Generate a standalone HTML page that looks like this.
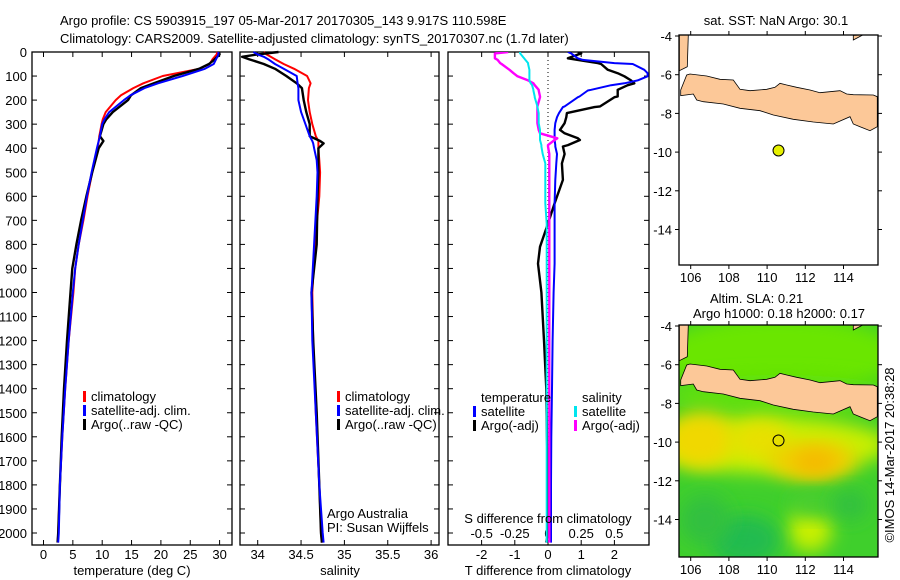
<!DOCTYPE html>
<html><head><meta charset="utf-8"><style>
html,body{margin:0;padding:0;background:#fff}
svg{display:block}
text{font-family:"Liberation Sans",sans-serif;font-size:13px;fill:#000}
</style></head><body>
<svg id="chart" width="900" height="580" viewBox="0 0 900 580" xmlns="http://www.w3.org/2000/svg">
<text x="60" y="25">Argo profile: CS 5903915_197 05-Mar-2017 20170305_143 9.917S 110.598E</text>
<text x="60" y="43">Climatology: CARS2009. Satellite-adjusted climatology: synTS_20170307.nc (1.7d later)</text>
<g id="g1"></g>
<g id="g2"></g>
<g id="g3"></g>
<g id="m1"></g>
<g id="m2"></g>
<text transform="translate(894,455) rotate(-90)" text-anchor="middle">©IMOS 14-Mar-2017 20:38:28</text>
</svg>
<script>
// ---- data ----
const tDepth = [0,10,30,50,70,100,130,150,180,200,250,280,300,350,370,400,500,600,700,800,900,1000,1200,1400,1600,1800,2000,2040];
const tClim  = [29.6,29.5,28.8,28.3,26.5,20.3,17,15.3,13.2,12.3,10.6,10.1,9.9,9.5,9.4,9.2,8.3,7.5,6.8,6,5.4,5.1,4.3,3.7,3.2,2.8,2.5,2.4];
const tSat   = [29.8,29.8,29.4,29.0,27.5,23.7,19.5,17.2,14.8,13.7,11.2,10.4,10.0,9.6,9.4,9.1,8.2,7.4,6.7,6.0,5.4,5.0,4.3,3.7,3.2,2.8,2.6,2.5];
const tArgo  = [29.9,30.0,29.2,28.2,26.5,22.2,18.8,16.6,14.9,14.4,11.8,10.7,10.2,9.6,10.2,9.4,8.3,7.3,6.4,5.6,4.9,4.6,4.0,3.5,3.1,2.8,2.5,2.4];
const sDepth = [0,10,20,30,50,70,100,130,150,200,250,300,350,370,380,400,450,500,600,800,1000,1200,1500,1800,2000,2040];
const sClim  = [34.07,34.1,34.15,34.2,34.3,34.42,34.57,34.61,34.59,34.58,34.6,34.63,34.67,34.7,34.7,34.7,34.71,34.72,34.71,34.66,34.63,34.64,34.67,34.71,34.73,34.74];
const sSat   = [33.95,34.0,34.07,34.12,34.2,34.3,34.45,34.46,34.47,34.47,34.5,34.55,34.6,34.63,34.64,34.65,34.68,34.69,34.68,34.65,34.62,34.63,34.67,34.71,34.75,34.76];
const sArgo  = [34.24,34.0,33.82,33.9,34.07,34.2,34.33,34.45,34.51,34.53,34.56,34.6,34.6,34.72,34.76,34.7,34.7,34.7,34.69,34.68,34.62,34.64,34.68,34.71,34.73,34.74];
const dDepth = [0,6,26,33,46,50,74,88,101,118,130,138,157,160,185,188,226,229,254,271,296,324,338,359,366,387,393,424,463,532,629,713,810,880,1000,1200,1400,1600,1800,2000,2040];
const dTSat  = [0.6,0.7,0.9,1.05,2.0,2.55,2.9,3.0,3.0,2.7,2.3,1.9,1.3,1.2,0.95,0.9,0.5,0.45,0.33,0.27,0.22,0.2,0.2,0.2,0.2,0.22,0.22,0.27,0.25,0.22,0.2,0.2,0.2,0.2,0.17,0.14,0.12,0.1,0.09,0.09,0.09];
const dTArgo = [0.9,1.0,0.6,0.9,1.5,1.6,1.8,2.1,2.3,2.5,2.6,2.4,2.1,2.1,2.1,2.0,1.57,1.4,0.57,0.55,0.5,0.36,0.5,0.9,0.96,0.6,0.45,0.5,0.42,0.45,0.2,0.0,-0.24,-0.3,-0.2,-0.12,-0.05,-0.03,0,0,-0.05];
const dSSat  = [-0.21,-0.21,-0.18,-0.17,-0.15,-0.15,-0.14,-0.14,-0.14,-0.14,-0.13,-0.12,-0.11,-0.11,-0.1,-0.1,-0.08,-0.08,-0.07,-0.07,-0.07,-0.06,-0.06,-0.06,-0.06,-0.05,-0.05,-0.04,-0.02,-0.02,-0.02,-0.01,-0.01,-0.01,-0.01,-0.01,-0.01,-0.01,-0.01,-0.01,-0.01];
const dSArgo = [-0.3,-0.4,-0.4,-0.38,-0.36,-0.35,-0.29,-0.26,-0.23,-0.15,-0.11,-0.1,-0.07,-0.07,-0.06,-0.06,-0.08,-0.08,-0.08,-0.08,-0.08,-0.07,-0.06,0.07,0.05,0.0,0.0,0.01,0.01,0.01,0.01,0.01,0.01,0.01,0.01,0.01,0.01,0.01,0.01,0.01,0.01];
const depthTicks = [0,100,200,300,400,500,600,700,800,900,1000,1100,1200,1300,1400,1500,1600,1700,1800,1900,2000];
const tTicks = [0,5,10,15,20,25,30];
const sTicks = [34,34.5,35,35.5,36];
const sTickLabels = ["34","34.5","35","35.5","36"];
const dTTicks = [-2,-1,0,1,2];
const dSTicks = [-0.5,-0.25,0,0.25,0.5];
const dSTickLabels = ["-0.5","-0.25","0","0.25","0.5"];
const lonTicks = [106,108,110,112,114];
const latTicks = [-4,-6,-8,-10,-12,-14];
const argoLon = [110.598];
const argoLat = [-9.917];

// ---- scales ----
const NS='http://www.w3.org/2000/svg';
const Y = d => 52 + 0.2405*d;
const xT = v => 43.5 + 5.87*v;
const xS = v => 257.7 + 86.7*(v-34);
const xDT = v => 548 + 33.2*v;
const xDS = v => 548 + 132.7*v;
const lonX = v => 690.7 + 19.1*(v-106);
const latY = (v,top) => top + 1 + 19.35*(-4-v);

function el(tag, attrs, parent, txt){
  const e=document.createElementNS(NS,tag);
  for(const k in attrs) e.setAttribute(k,attrs[k]);
  if(txt!==undefined) e.textContent=txt;
  parent.appendChild(e); return e;
}
function line(parent, xs, depths, f, color, w, name){
  const p = xs.map((v,i)=>(i?'L':'M')+f(v).toFixed(1)+','+Y(depths[i]).toFixed(1)).join('');
  const e=el('path',{d:p,fill:'none',stroke:color,'stroke-width':w,'stroke-linejoin':'round'},parent);
  
  
}
function frame(g,x0,x1,name){
  const r=el('rect',{x:x0,y:52,width:x1-x0,height:493,fill:'none',stroke:'#000','stroke-width':1.3},g);
  
  
  depthTicks.forEach(d=>{
    el('line',{x1:x0,x2:x0+5,y1:Y(d),y2:Y(d),stroke:'#000'},g);
    el('line',{x1:x1,x2:x1-5,y1:Y(d),y2:Y(d),stroke:'#000'},g);
  });
}
function xticks(g,ticks,labels,f,ly,top){
  ticks.forEach((t,i)=>{
    el('line',{x1:f(t),x2:f(t),y1:545,y2:540,stroke:'#000'},g);
    if(top) el('line',{x1:f(t),x2:f(t),y1:52,y2:57,stroke:'#000'},g);
    const tx=el('text',{x:f(t),y:ly,'text-anchor':'middle'},g,labels[i]);
    
    
  });
}
function legend(g,x,y,color,label){
  el('rect',{x:x-1,y:y-10,width:3,height:11,fill:color},g);
  const t=el('text',{x:x+7,y:y},g,label);
  
  
}

// panel 1
const g1=document.getElementById('g1');
frame(g1,32,232,'temperature-axes');
depthTicks.forEach(d=>{
  const t=el('text',{x:27,y:Y(d)+5,'text-anchor':'end'},g1,String(d));
  
  
});
xticks(g1,tTicks,tTicks.map(String),xT,559,true);
el('text',{x:132,y:575,'text-anchor':'middle'},g1,'temperature (deg C)');
line(g1,tClim,tDepth,xT,'#ff0000',2,'temp-climatology-line');
line(g1,tArgo,tDepth,xT,'#000000',2.4,'temp-argo-line');
line(g1,tSat,tDepth,xT,'#0000ff',2,'temp-satellite-line');
legend(g1,84,401,'#ff0000','climatology');
legend(g1,84,415,'#0000ff','satellite-adj. clim.');
legend(g1,84,429,'#000000','Argo(..raw -QC)');

// panel 2
const g2=document.getElementById('g2');
frame(g2,240,439,'salinity-axes');
xticks(g2,sTicks,sTickLabels,xS,559,true);
el('text',{x:340,y:575,'text-anchor':'middle'},g2,'salinity');
line(g2,sClim,sDepth,xS,'#ff0000',2,'sal-climatology-line');
line(g2,sArgo,sDepth,xS,'#000000',2.4,'sal-argo-line');
line(g2,sSat,sDepth,xS,'#0000ff',2,'sal-satellite-line');
legend(g2,338,401,'#ff0000','climatology');
legend(g2,338,415,'#0000ff','satellite-adj. clim.');
legend(g2,338,429,'#000000','Argo(..raw -QC)');
el('text',{x:327,y:518},g2,'Argo Australia');
el('text',{x:327,y:532},g2,'PI: Susan Wijffels');

// panel 3
const g3=document.getElementById('g3');
const cp=el('clipPath',{id:'cp3'},g3); el('rect',{x:448,y:52,width:201,height:493},cp);
frame(g3,448,649,'difference-axes');
xticks(g3,dTTicks,dTTicks.map(String),xDT,559,false);
dSTicks.forEach((t,i)=>{
  el('line',{x1:xDS(t),x2:xDS(t),y1:52,y2:57,stroke:'#000'},g3);
  el('text',{x:xDS(t),y:538,'text-anchor':'middle'},g3,dSTickLabels[i]);
});
el('text',{x:548,y:575,'text-anchor':'middle'},g3,'T difference from climatology');
el('line',{x1:xDT(0),x2:xDT(0),y1:52,y2:545,stroke:'#000','stroke-dasharray':'1,3'},g3);
const inner=el('g',{'clip-path':'url(#cp3)'},g3);
line(inner,dTArgo,dDepth,xDT,'#000000',2.4,'tdiff-argo-line');
line(inner,dTSat,dDepth,xDT,'#0000ff',2,'tdiff-satellite-line');
line(inner,dSArgo,dDepth,xDS,'#ff00ff',2.4,'sdiff-argo-line');
line(inner,dSSat,dDepth,xDS,'#00e5ee',2,'sdiff-satellite-line');
el('text',{x:481,y:402},g3,'temperature');
el('text',{x:582,y:402},g3,'salinity');
legend(g3,474,416,'#0000ff','satellite');
legend(g3,474,430,'#000000','Argo(-adj)');
legend(g3,575,416,'#00e5ee','satellite');
legend(g3,575,430,'#ff00ff','Argo(-adj)');
el('text',{x:548,y:523,'text-anchor':'middle'},g3,'S difference from climatology');

// maps
function mapAxes(g,top,bottom){
  latTicks.forEach(l=>{
    const y=latY(l,top);
    el('line',{x1:679,x2:675,y1:y,y2:y,stroke:'#000'},g);
    el('line',{x1:878,x2:882,y1:y,y2:y,stroke:'#000'},g);
    el('text',{x:672,y:y+5,'text-anchor':'end'},g,String(l));
  });
  lonTicks.forEach(l=>{
    const x=lonX(l);
    el('line',{x1:x,x2:x,y1:top,y2:top-4,stroke:'#000'},g);
    el('line',{x1:x,x2:x,y1:bottom,y2:bottom+4,stroke:'#000'},g);
    el('text',{x:x,y:bottom+17,'text-anchor':'middle'},g,String(l));
  });
  el('rect',{x:679,y:top,width:199,height:bottom-top,fill:'none',stroke:'#000','stroke-width':1.3},g);
}
const java=[[122,270],[140,225],[150,222],[200,228],[240,238],[280,240],[300,268],[330,272],[380,268],[405,262],[420,250],[440,255],[470,262],[510,270],[540,278],[600,272],[620,282],[640,284],[700,285],[712,290],[712,380],[690,392],[660,380],[640,372],[630,350],[580,372],[520,366],[460,358],[400,345],[360,332],[300,325],[250,312],[190,305],[170,300],[160,282],[122,287]];
const sumatra=[[118,105],[145,105],[142,200],[118,212]];
const bali=[[640,120],[668,105],[640,106]];
function land(g,dy){
  [java,sumatra,bali].forEach(poly=>{
    const p=el('polygon',{points:poly.map(([x,y])=>(x/3+640).toFixed(1)+','+(y/3+dy).toFixed(1)).join(' '),fill:'#fcc898',stroke:'#000','stroke-width':0.8},g);
    
    
  });
}
const m1=document.getElementById('m1');
el('text',{x:776,y:25,'text-anchor':'middle'},m1,'sat. SST: NaN Argo: 30.1');
el('rect',{x:679,y:35,width:199,height:230,fill:'#fff'},m1);
land(m1,0);
argoLon.forEach((lo,i)=>{
  const c=el('circle',{cx:lonX(lo),cy:latY(argoLat[i],35),r:5.5,fill:'#e6f000',stroke:'#000'},m1);
  
  
});
mapAxes(m1,35,265);

const m2=document.getElementById('m2');
el('text',{x:710,y:303},m2,'Altim. SLA: 0.21');
el('text',{x:693,y:318},m2,'Argo h1000: 0.18 h2000: 0.17');
const defs=el('defs',{},m2);
const f=el('filter',{id:'bl',x:'-50%',y:'-50%',width:'200%',height:'200%'},defs);
el('feGaussianBlur',{stdDeviation:9},f);
const cp2=el('clipPath',{id:'cpm'},defs); el('rect',{x:679,y:325,width:199,height:232},cp2);
const mg=el('g',{'clip-path':'url(#cpm)'},m2);
el('rect',{x:679,y:325,width:199,height:232,fill:'#3fcf2c'},mg);
const blobs=[[780,355,120,40,'#6ae600'],[780,395,120,20,'#5ee010'],[770,445,120,28,'#c8f000'],[700,440,35,28,'#f0d800'],[760,440,30,20,'#e8e000'],[812,460,45,20,'#f0d000'],[815,462,22,12,'#f5b800'],[810,530,22,22,'#c8f000'],[815,505,25,12,'#44cc30'],[745,540,35,25,'#20bb50'],[705,520,25,25,'#30c040'],[850,505,18,15,'#30c040']];
blobs.forEach(b=>el('ellipse',{cx:b[0],cy:b[1],rx:b[2],ry:b[3],fill:b[4],filter:'url(#bl)'},mg));
land(mg,290);
argoLon.forEach((lo,i)=>{
  const c=el('circle',{cx:lonX(lo),cy:latY(argoLat[i],325),r:5.5,fill:'none',stroke:'#000'},m2);
  
  
});
mapAxes(m2,325,557);
</script>
</body></html>
